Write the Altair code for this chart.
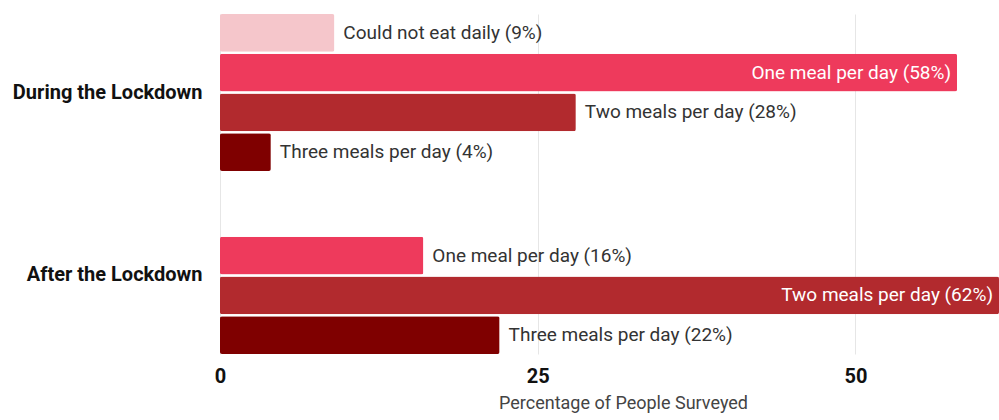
import altair as alt
import pandas as pd

groups = ["During the Lockdown"] * 4 + ["After the Lockdown"] * 3
categories = ["Could not eat daily", "One meal per day", "Two meals per day", "Three meals per day",
              "One meal per day", "Two meals per day", "Three meals per day"]
values = [9, 58, 28, 4, 16, 62, 22]

group_order = ["During the Lockdown", "After the Lockdown"]
cat_order = ["Could not eat daily", "One meal per day", "Two meals per day", "Three meals per day"]
cat_colors = ["#f5c6cb", "#ee3a5c", "#b22a2e", "#7f0000"]

df = pd.DataFrame({"group": groups, "category": categories, "value": values})
df["label"] = [f"{c} ({v}%)" for c, v in zip(df["category"], df["value"])]
df["inside"] = df["value"] > 40

FONT = "Roboto"

y_enc = alt.Y("group:N", sort=group_order,
              scale=alt.Scale(domain=group_order, paddingInner=0.142, paddingOuter=0),
              axis=alt.Axis(title=None, ticks=False, domain=False, labelPadding=18,
                            labelLimit=300,
                            labelFont=FONT, labelFontSize=20, labelFontWeight="bold",
                            labelColor="#111"))
yoff_enc = alt.YOffset("category:N", sort=cat_order,
                       scale=alt.Scale(domain=cat_order, paddingInner=0.05, paddingOuter=0))
x_enc = alt.X("value:Q", scale=alt.Scale(domain=[0, 61.3], nice=False, clamp=True),
              axis=alt.Axis(values=[0, 25, 50], title="Percentage of People Surveyed",
                            ticks=False, domain=False, grid=True, gridColor="#e6e6e6",
                            labelFlush=False,
                            labelFont=FONT, labelFontSize=20, labelFontWeight="bold",
                            labelColor="#111", labelPadding=12,
                            titleFont=FONT, titleFontSize=18, titleFontWeight="normal",
                            titleColor="#444", titlePadding=8,
                            titleX=403, titleAlign="center"))

base = alt.Chart(df)

bars = base.mark_bar(cornerRadius=2).encode(
    x=x_enc, y=y_enc, yOffset=yoff_enc,
    color=alt.Color("category:N", scale=alt.Scale(domain=cat_order, range=cat_colors), legend=None),
)

text_out = base.transform_filter("!datum.inside").mark_text(
    align="left", baseline="middle", dx=9, font=FONT, fontSize=19, color="#333"
).encode(x="value:Q", y=alt.Y("group:N", sort=group_order),
         yOffset=alt.YOffset("category:N", sort=cat_order), text="label:N")

text_in = base.transform_filter("datum.inside").mark_text(
    align="right", baseline="middle", dx=-6, font=FONT, fontSize=19, color="#ffffff"
).encode(x="value:Q", y=alt.Y("group:N", sort=group_order),
         yOffset=alt.YOffset("category:N", sort=cat_order), text="label:N")

chart = alt.layer(bars, text_out, text_in).properties(
    width=779, height=340,
    autosize=alt.AutoSizeParams(type="none"),
    padding={"left": 220, "top": 14, "right": 0, "bottom": 66},
    background="white",
).configure_view(stroke=None)

chart.save("out.html", embed_options={"renderer": "svg", "actions": False})
